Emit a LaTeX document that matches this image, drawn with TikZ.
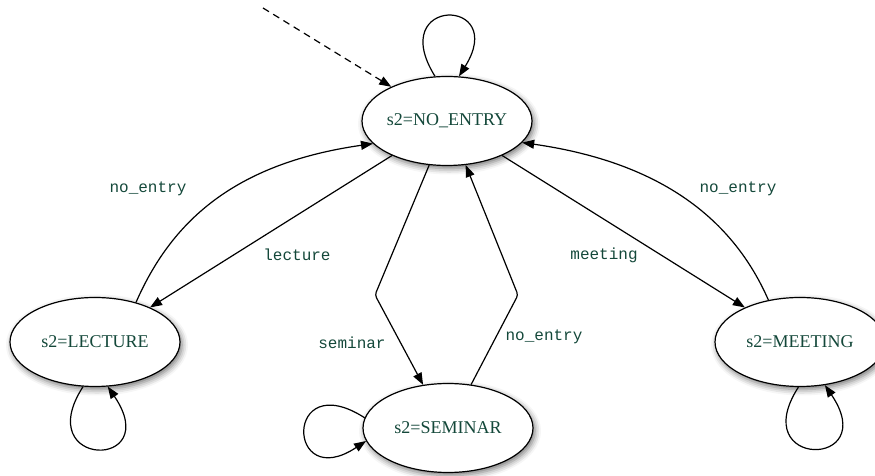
\documentclass[tikz,border=0pt]{standalone}
\usepackage{fontspec}
\setmainfont{Liberation Serif}
\setmonofont{Liberation Mono}
\usetikzlibrary{shapes.geometric, arrows.meta, shadows.blur}
\definecolor{labelgreen}{RGB}{20,72,58}
\tikzset{
	>={Triangle[length=12pt,width=9pt]},
	mode/.style={ellipse, draw, line width=1.2pt, fill=white,
		minimum width=170pt, minimum height=89pt, inner sep=0pt,
		font=\fontsize{18}{20}\selectfont, text=labelgreen,
		blur shadow={shadow xshift=2pt, shadow yshift=-3pt,
			shadow blur radius=6pt, shadow opacity=55}},
	trans/.style={->, line width=1.2pt},
	initarrow/.style={trans, dash pattern=on 7pt off 5pt},
	lbl/.style={font=\ttfamily\fontsize{16}{18}\selectfont, text=labelgreen}
}

\begin{document}
\begin{tikzpicture}[x=1pt, y=1pt]
	\useasboundingbox (0,0) rectangle (875,476);
	\node[mode] (noentry) at (447,355) {s2=NO\_ENTRY};
	\node[mode] (lecture) at (95,134)  {s2=LECTURE};
	\node[mode] (seminar) at (448,48)  {s2=SEMINAR};
	\node[mode] (meeting) at (800,134) {s2=MEETING};
	\coordinate (init)    at (263,468);
	\coordinate (semdown) at (375,181);
	\coordinate (semup)   at (518,181);
	% edge labels
	\node[lbl] (lblentryL) at (148,287) {no\_entry};
	\node[lbl] (lbllect)   at (297,221) {lecture};
	\node[lbl] (lblsem)    at (352,133) {seminar};
	\node[lbl] (lblentryS) at (544,139) {no\_entry};
	\node[lbl] (lblmeet)   at (604,221) {meeting};
	\node[lbl] (lblentryR) at (738,287) {no\_entry};
	% transitions
	\draw[initarrow] (init) -- (noentry);
	\draw[trans] (noentry.105) .. controls +(-50,80) and +(50,80) .. (noentry.75);
	\draw[trans] (lecture.44) .. controls +(35,80) and +(-140,-20) .. (noentry.197);
	\draw[trans] (noentry) -- (lecture);
	\draw[trans, rounded corners=3pt] (noentry.248) -- (semdown) -- (seminar.120);
	\draw[trans, rounded corners=3pt] (seminar.62) -- (semup) -- (noentry.293);
	\draw[trans] (noentry) -- (meeting);
	\draw[trans] (meeting.127) .. controls +(-35,80) and +(140,-20) .. (noentry.344);
	\draw[trans] (lecture.255) .. controls +(-53,-82) and +(57,-84) .. (lecture.286);
	\draw[trans] (seminar.173) .. controls +(-81,52) and +(-80,-53) .. (seminar.189);
	\draw[trans] (meeting.268) .. controls +(-53,-82) and +(57,-84) .. (meeting.300);
\end{tikzpicture}
\end{document}
